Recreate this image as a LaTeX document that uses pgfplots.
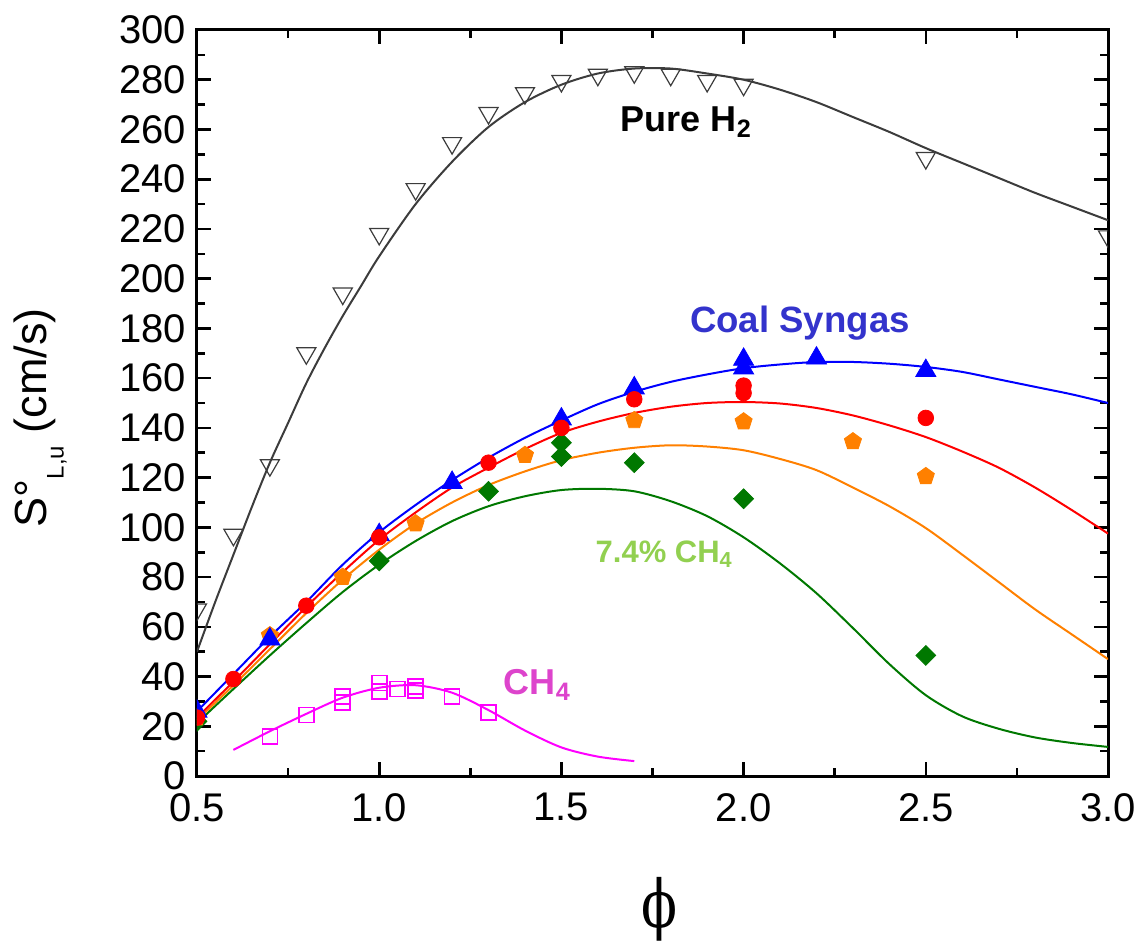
\documentclass[border=0pt]{standalone}
\usepackage{graphicx}
\usepackage{pgfplots}
\pgfplotsset{compat=1.18}
\usepackage{fontspec}
\setmainfont{Liberation Sans}
\newfontfamily\phifont{DejaVu Serif}

\definecolor{hgray}{RGB}{60,60,60}
\definecolor{cblue}{RGB}{0,0,255}
\definecolor{cred}{RGB}{255,0,0}
\definecolor{corange}{RGB}{255,128,0}
\definecolor{cgreen}{RGB}{0,120,0}
\definecolor{cmag}{RGB}{255,0,255}
\definecolor{lblue}{RGB}{51,51,204}
\definecolor{lgreen}{RGB}{146,208,80}
\definecolor{lmag}{RGB}{221,68,204}

\begin{document}
\begin{tikzpicture}
\begin{axis}[
    scale only axis,
    width=455.5pt, height=373pt,
    xmin=0.5, xmax=3.0, ymin=0, ymax=300,
    xtick={0.5,1.0,1.5,2.0,2.5,3.0},
    ytick={0,20,40,60,80,100,120,140,160,180,200,220,240,260,280,300},
    minor x tick num=1, minor y tick num=1,
    tick align=inside,
    major tick length=7pt, minor tick length=4pt,
    tick style={black, line width=1.3pt},
    axis line style={line width=1.5pt},
    /pgf/number format/assume math mode=true,
    tick label style={font=\fontsize{20}{24}\selectfont},
    xticklabel style={/pgf/number format/.cd, fixed, fixed zerofill, precision=1, /tikz/.cd, yshift=-5pt},
    yticklabel style={xshift=-2pt},
    xlabel={\scalebox{0.8}[1]{\fontsize{33}{38}\selectfont\phifont ϕ}},
    xlabel style={at={(axis description cs:0.508,-0.178)}, anchor=center},
    ylabel={\fontsize{22.5}{26}\selectfont S°\raisebox{-8.5pt}{\fontsize{12}{12}\selectfont L,u} (cm/s)},
    ylabel style={at={(axis description cs:-0.172,0.48)}, anchor=center},
    clip marker paths=true,
]
% pure H2
\addplot[hgray, line width=1pt, smooth, no marks] coordinates {
(0.5,50)(0.55,70)(0.6,89)(0.65,108)(0.7,126)(0.75,142)(0.8,158)(0.85,172)(0.9,185)(0.95,197)
(1.0,209)(1.1,230)(1.2,247)(1.3,261)(1.4,271)(1.5,278)(1.6,282.5)(1.7,284.5)(1.8,284.5)(1.9,282.5)
(2.0,280)(2.1,276)(2.2,271)(2.3,265)(2.4,259)(2.5,252.5)(2.6,246.5)(2.7,240.5)(2.8,234.5)(2.9,229)(3.0,223.5)};
\addplot[only marks, mark=triangle, mark size=5.5pt, mark options={rotate=180, draw=hgray, fill=white, line width=0.6pt}] coordinates {
(0.5,67)(0.6,97)(0.7,125)(0.8,170)(0.9,194)(1.0,218)(1.1,236)(1.2,254.5)(1.3,266.6)(1.4,274.6)
(1.5,279.5)(1.6,282)(1.7,283)(1.8,282)(1.9,279.5)(2.0,278)(2.5,248.5)(3.0,217)};
% 7.4% CH4 (green)
\addplot[cgreen, line width=1pt, smooth, no marks] coordinates {
(0.5,21.3)(0.6,35)(0.7,48.5)(0.8,61.5)(0.9,74)(1.0,85)(1.1,94.5)(1.2,102.5)(1.3,108.5)(1.4,112.5)
(1.5,115)(1.6,115.5)(1.7,114.5)(1.8,110.5)(1.9,104.5)(2.0,96)(2.1,85.5)(2.2,73.5)(2.3,59.5)(2.4,45)
(2.5,32.5)(2.6,24)(2.7,19)(2.8,15.5)(2.9,13.3)(3.0,11.7)};
% orange
\addplot[corange, line width=1pt, smooth, no marks] coordinates {
(0.5,22.5)(0.6,36.5)(0.7,51)(0.8,65.5)(0.9,79)(1.0,91)(1.1,101.5)(1.2,110)(1.3,117)(1.4,122.5)
(1.5,127)(1.6,130)(1.7,132)(1.8,133)(1.9,132.5)(2.0,131)(2.1,127.5)(2.2,123)(2.3,116)(2.4,108.5)
(2.5,99.7)(2.6,89)(2.7,78)(2.8,67)(2.9,57)(3.0,47)};
% red
\addplot[cred, line width=1pt, smooth, no marks] coordinates {
(0.5,23.5)(0.6,38)(0.7,53)(0.8,68)(0.9,82)(1.0,95)(1.1,106)(1.2,116)(1.3,124)(1.4,131.5)
(1.5,138)(1.6,142.5)(1.7,146)(1.8,148.5)(1.9,150)(2.0,150.4)(2.1,149.8)(2.2,148)(2.3,145)(2.4,141)
(2.5,136.3)(2.6,130.5)(2.7,124)(2.8,116)(2.9,107)(3.0,97.5)};
% coal syngas (blue)
\addplot[cblue, line width=1pt, smooth, no marks] coordinates {
(0.5,26)(0.6,41)(0.7,56)(0.8,70)(0.9,85)(1.0,98)(1.1,109)(1.2,119)(1.3,128)(1.4,136)
(1.5,143)(1.6,149.5)(1.7,154.5)(1.8,158.5)(1.9,161.5)(2.0,164)(2.1,165.5)(2.2,166.5)(2.3,166.5)(2.4,165.8)
(2.5,164.5)(2.6,162.5)(2.7,159.5)(2.8,156.5)(2.9,153.5)(3.0,150)};
% CH4 (magenta)
\addplot[cmag, line width=1pt, smooth, no marks] coordinates {
(0.6,10.5)(0.7,18)(0.8,25)(0.9,31.5)(1.0,35.5)(1.1,36.5)(1.2,33.5)(1.3,26.5)(1.4,18.3)(1.5,11.5)(1.6,7.8)(1.7,6)};

\addplot[only marks, mark=square*, mark size=3.5pt, mark options={rotate=45, draw=cgreen, fill=cgreen}] coordinates {
(0.5,22)(1.0,86.5)(1.3,114.5)(1.5,134)(1.5,128.5)(1.7,126)(2.0,111.5)(2.5,48.5)};
\addplot[only marks, mark=pentagon*, mark size=4.5pt, mark options={draw=corange, fill=corange}] coordinates {
(0.5,23.5)(0.7,56.5)(0.9,80)(1.1,101.5)(1.4,129)(1.7,143)(2.0,142.5)(2.3,134.5)(2.5,120.5)};
\addplot[only marks, mark=triangle*, mark size=5.8pt, mark options={draw=cblue, fill=cblue}] coordinates {
(0.5,26)(0.7,55)(1.0,97)(1.2,118)(1.5,143.5)(1.7,156)(2.0,167.5)(2.0,164)(2.2,168)(2.5,163)};
\addplot[only marks, mark=*, mark size=3.9pt, mark options={draw=cred, fill=cred}] coordinates {
(0.5,23.5)(0.6,39)(0.8,68.5)(1.0,96)(1.3,126)(1.5,140)(1.7,151.5)(2.0,157)(2.0,154)(2.5,144)};
\addplot[only marks, mark=square, mark size=3.75pt, mark options={draw=cmag, line width=0.8pt}] coordinates {
(0.7,16)(0.8,24.5)(0.9,32)(0.9,29.5)(1.0,37.4)(1.0,34)(1.05,35)(1.1,36)(1.1,34.5)(1.2,32)(1.3,25.6)};

\node[anchor=base west, inner sep=0pt, font=\fontsize{18}{20}\selectfont\bfseries, text=black] at (axis cs:1.662,259) {Pure H\textsubscript{2}};
\node[anchor=base west, inner sep=0pt, font=\fontsize{18.3}{20}\selectfont\bfseries, text=lblue] at (axis cs:1.852,178.5) {Coal Syngas};
\node[anchor=base west, inner sep=0pt, font=\fontsize{15.5}{18}\selectfont\bfseries, text=lgreen] at (axis cs:1.593,86) {7.4\% CH\textsubscript{4}};
\node[anchor=base west, inner sep=0pt, font=\fontsize{18}{20}\selectfont\bfseries, text=lmag] at (axis cs:1.341,32.6) {CH\textsubscript{4}};
\end{axis}
\pgfresetboundingbox
\path ([xshift=-98.5pt,yshift=-83.5pt]current axis.south west) rectangle ([xshift=17pt,yshift=15pt]current axis.north east);
\end{tikzpicture}
\end{document}
